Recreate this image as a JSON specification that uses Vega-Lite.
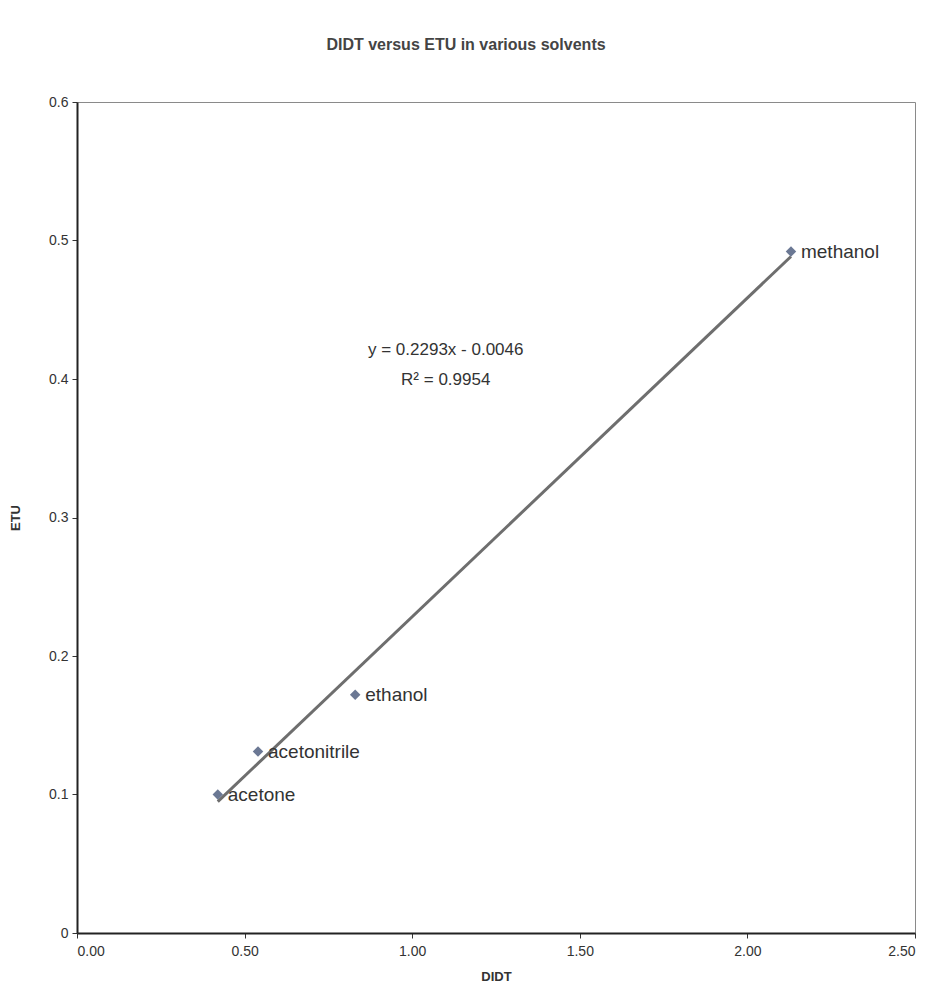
{
  "$schema": "https://vega.github.io/schema/vega-lite/v6.json",
  "width": 838,
  "height": 831,
  "autosize": "none",
  "padding": {"left": 77, "top": 102, "right": 28, "bottom": 61},
  "background": "white",
  "title": {
    "text": "DIDT versus ETU in various solvents",
    "font": "Liberation Sans",
    "fontSize": 16,
    "fontWeight": "bold",
    "color": "#444",
    "offset": 42,
    "dx": -30
  },
  "config": {
    "view": {"stroke": "#8a8a8a", "strokeWidth": 1},
    "axis": {
      "grid": false,
      "domainColor": "#222",
      "domainWidth": 2,
      "tickColor": "#333",
      "tickSize": 5,
      "labelFont": "Liberation Sans",
      "labelFontSize": 14,
      "labelColor": "#333",
      "titleFont": "Liberation Sans",
      "titleFontSize": 13,
      "titleFontWeight": "bold",
      "titleColor": "#333"
    }
  },
  "data": {
    "values": [
      {"solvent": "acetone", "DIDT": 0.42, "ETU": 0.100},
      {"solvent": "acetonitrile", "DIDT": 0.54, "ETU": 0.131},
      {"solvent": "ethanol", "DIDT": 0.83, "ETU": 0.172},
      {"solvent": "methanol", "DIDT": 2.13, "ETU": 0.492}
    ]
  },
  "layer": [
    {
      "transform": [{"regression": "ETU", "on": "DIDT", "method": "linear"}],
      "mark": {"type": "line", "color": "#6e6e6e", "strokeWidth": 3},
      "encoding": {
        "x": {"field": "DIDT", "type": "quantitative"},
        "y": {"field": "ETU", "type": "quantitative"}
      }
    },
    {
      "mark": {"type": "point", "shape": "diamond", "filled": true, "color": "#6b7894", "size": 110, "opacity": 1},
      "encoding": {
        "x": {
          "field": "DIDT", "type": "quantitative",
          "scale": {"domain": [0, 2.5], "nice": false, "zero": false},
          "axis": {"values": [0, 0.5, 1, 1.5, 2, 2.5], "format": ".2f", "title": "DIDT", "labelPadding": 6, "titlePadding": 12}
        },
        "y": {
          "field": "ETU", "type": "quantitative",
          "scale": {"domain": [0, 0.6], "nice": false, "zero": false},
          "axis": {"values": [0, 0.1, 0.2, 0.3, 0.4, 0.5, 0.6], "labelExpr": "datum.value == 0 ? '0' : format(datum.value, '.1f')", "title": "ETU", "labelPadding": 4, "titlePadding": 26}
        }
      }
    },
    {
      "mark": {"type": "text", "align": "left", "baseline": "middle", "dx": 10, "font": "Liberation Sans", "fontSize": 19, "color": "#333"},
      "encoding": {
        "x": {"field": "DIDT", "type": "quantitative"},
        "y": {"field": "ETU", "type": "quantitative"},
        "text": {"field": "solvent"}
      }
    },
    {
      "data": {
        "values": [
          {"label": "y = 0.2293x - 0.0046", "lx": 1.10, "ly": 0.421},
          {"label": "R² = 0.9954", "lx": 1.10, "ly": 0.399}
        ]
      },
      "mark": {"type": "text", "align": "center", "baseline": "middle", "font": "Liberation Sans", "fontSize": 17, "color": "#333"},
      "encoding": {
        "x": {"field": "lx", "type": "quantitative"},
        "y": {"field": "ly", "type": "quantitative"},
        "text": {"field": "label"}
      }
    }
  ]
}
